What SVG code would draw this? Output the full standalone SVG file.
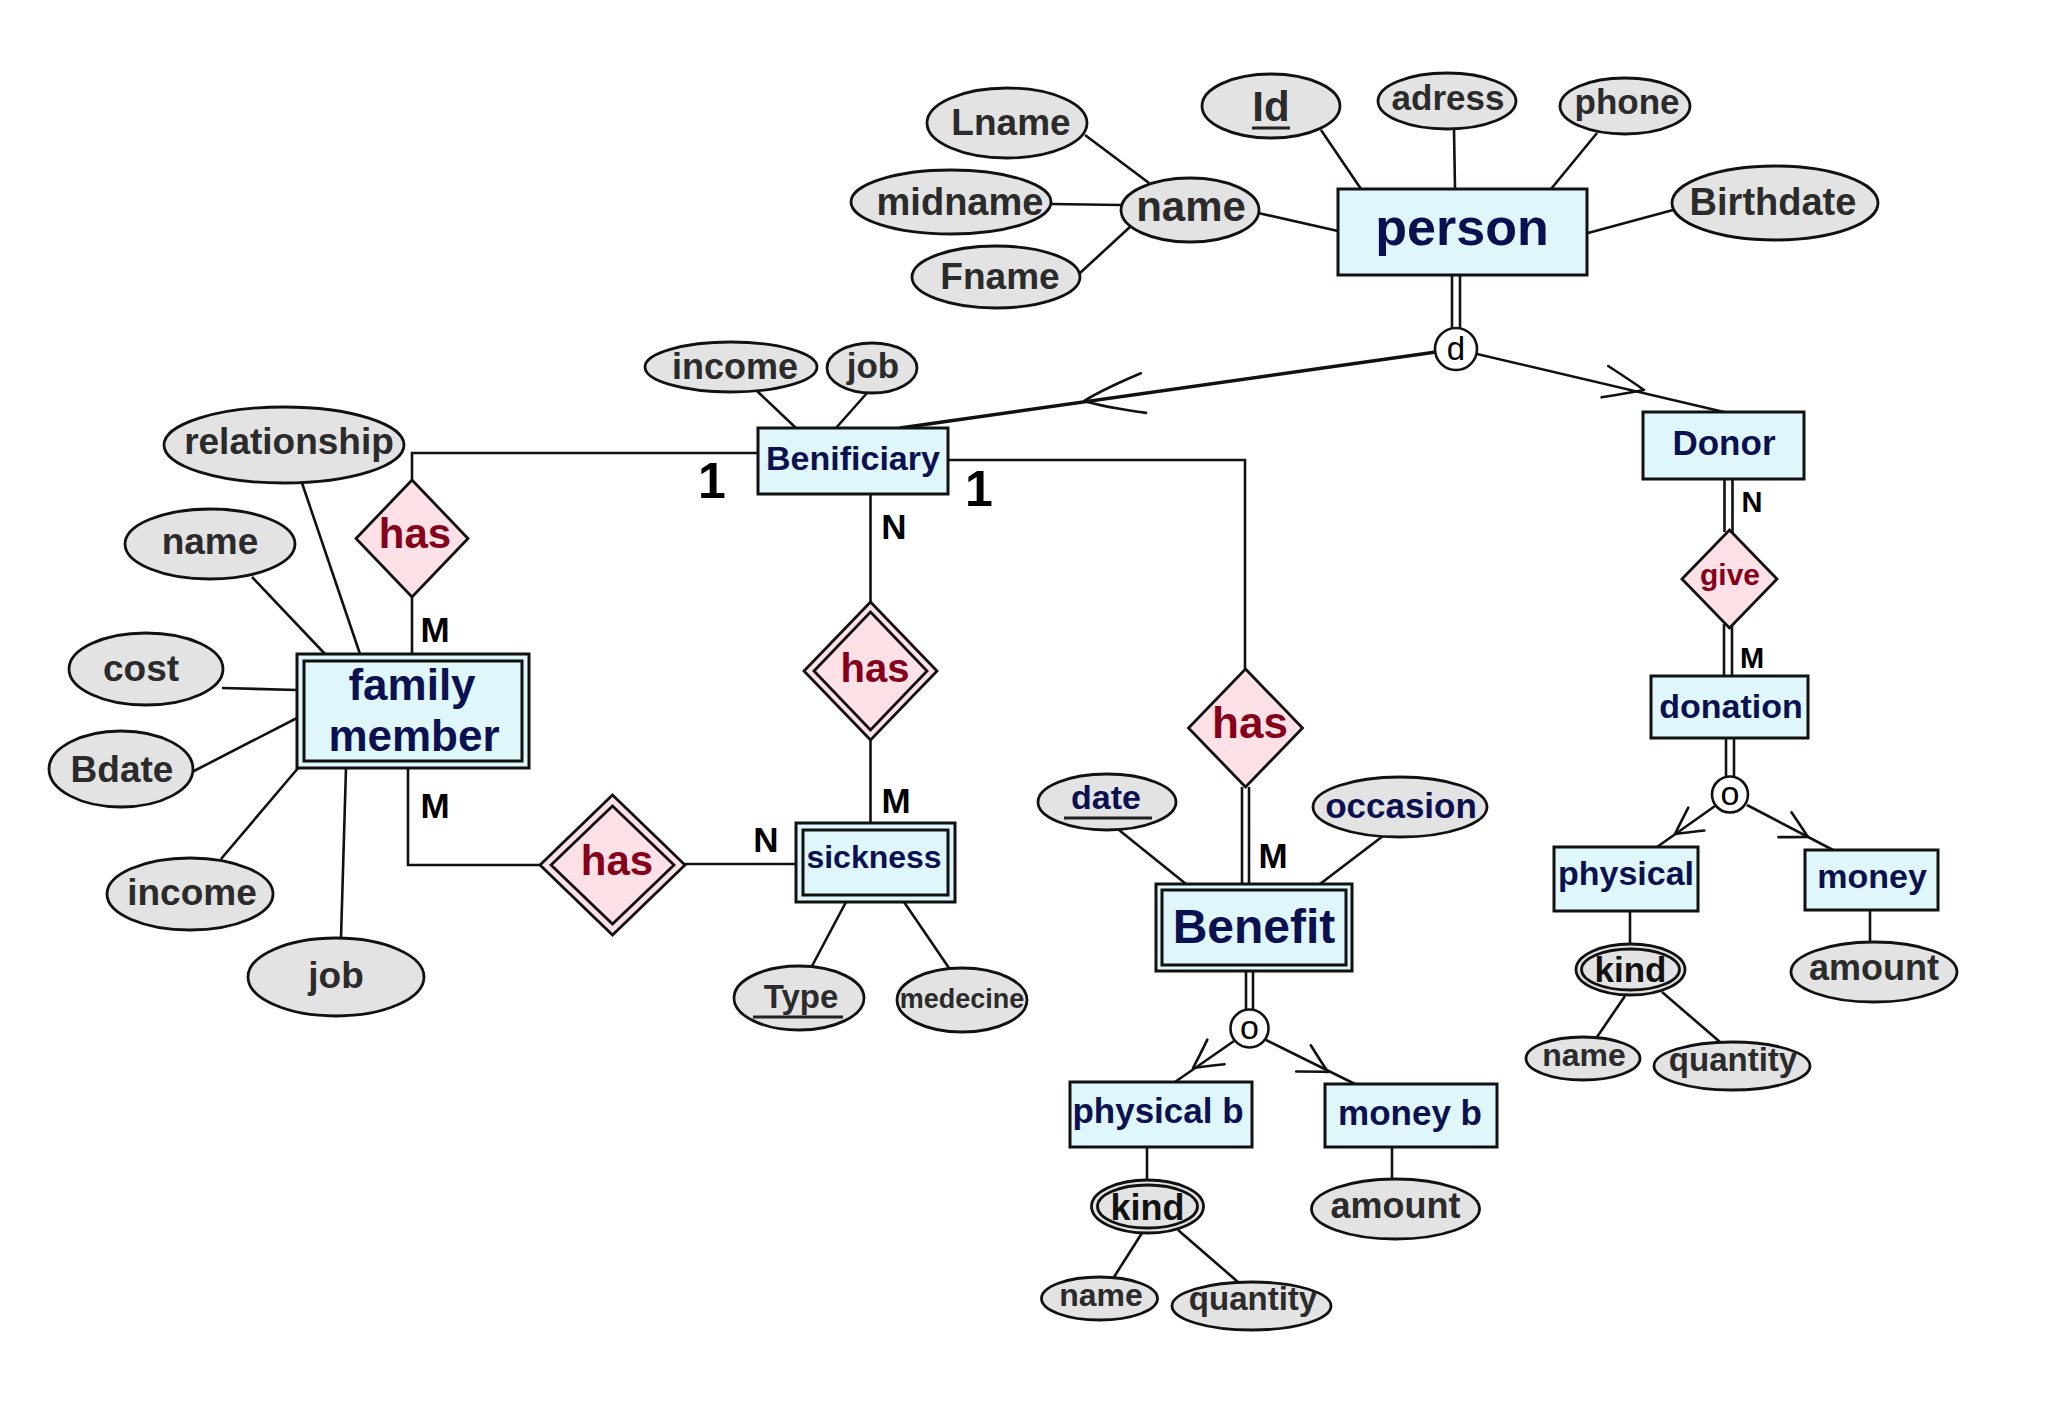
<svg xmlns="http://www.w3.org/2000/svg" width="2048" height="1410" viewBox="0 0 2048 1410">
<style>
text{font-family:"Liberation Sans",Arial,Helvetica,sans-serif;font-weight:bold;text-anchor:middle}
.ln{stroke:#111;stroke-width:2.6;fill:none}
.thick{stroke:#111;stroke-width:3.4;fill:none}
.sub{stroke:#111;stroke-width:2.6;fill:none;stroke-linecap:round;stroke-linejoin:round}
.ent{fill:#dff6fa;stroke:#111;stroke-width:3}
.att{fill:#e3e3e3;stroke:#111;stroke-width:2.8}
.rel{fill:#fde1e6;stroke:#111;stroke-width:2.8}
.circ{fill:#fff;stroke:#111;stroke-width:2.6}
.et{fill:#0b1150}
.at{fill:#2b2b2b}
.an{fill:#0b1150}
.rt{fill:#85001a}
.card{fill:#000}
.ul{stroke:#222;stroke-width:3}
.sym{font-weight:normal;fill:#000}
</style>

<g id="connectors">
  <!-- person attributes -->
  <line class="ln" x1="1085" y1="135" x2="1149" y2="183"/>
  <line class="ln" x1="1051" y1="204" x2="1121" y2="205"/>
  <line class="ln" x1="1080" y1="273" x2="1131" y2="226"/>
  <line class="ln" x1="1258" y1="213" x2="1338" y2="231"/>
  <line class="ln" x1="1321" y1="130" x2="1361" y2="189"/>
  <line class="ln" x1="1454" y1="129" x2="1455" y2="189"/>
  <line class="ln" x1="1597" y1="133" x2="1551" y2="189"/>
  <line class="ln" x1="1673" y1="210" x2="1588" y2="233"/>
  <!-- person to d (double) -->
  <line class="ln" x1="1452" y1="275" x2="1452" y2="330"/>
  <line class="ln" x1="1460" y1="275" x2="1460" y2="330"/>
  <!-- d to Benificiary / Donor -->
  <line class="thick" x1="1436" y1="352" x2="900" y2="428"/>
  <line class="ln" x1="1477" y1="354" x2="1724" y2="412"/>
  <path class="sub" transform="translate(1084,401) rotate(-7.6)" d="M60,-20 Q20,-9 0,0 Q20,9 60,20"/>
  <path class="sub" transform="translate(1644,390) rotate(-168)" d="M40,-16 Q14,-6 0,0 Q14,6 40,16"/>
  <!-- Benificiary attributes -->
  <line class="ln" x1="757" y1="391" x2="796" y2="428"/>
  <line class="ln" x1="867" y1="393" x2="836" y2="428"/>
  <!-- Benificiary - has - family member -->
  <polyline class="ln" points="758,453 412,453 412,480"/>
  <line class="ln" x1="412" y1="597" x2="412" y2="654"/>
  <!-- Benificiary - has - sickness -->
  <line class="ln" x1="870.5" y1="494" x2="870.5" y2="602"/>
  <line class="ln" x1="870.5" y1="740" x2="870.5" y2="823"/>
  <!-- Benificiary - has - Benefit -->
  <polyline class="ln" points="948,460 1245,460 1245,669"/>
  <line class="ln" x1="1242" y1="787" x2="1242" y2="884"/>
  <line class="ln" x1="1249" y1="787" x2="1249" y2="884"/>
  <!-- family member - has - sickness -->
  <polyline class="ln" points="408,768 408,865 540,865"/>
  <line class="ln" x1="685" y1="864" x2="796" y2="864"/>
  <!-- family member attributes -->
  <line class="ln" x1="302" y1="483" x2="360" y2="654"/>
  <line class="ln" x1="252" y1="577" x2="325" y2="654"/>
  <line class="ln" x1="222" y1="688" x2="297" y2="690"/>
  <line class="ln" x1="192" y1="772" x2="297" y2="718"/>
  <line class="ln" x1="221" y1="859" x2="299" y2="767"/>
  <line class="ln" x1="341" y1="938" x2="346" y2="768"/>
  <!-- sickness attributes -->
  <line class="ln" x1="812" y1="966" x2="846" y2="902"/>
  <line class="ln" x1="949" y1="968" x2="904" y2="902"/>
  <!-- Benefit attributes -->
  <line class="ln" x1="1119" y1="830" x2="1186" y2="884"/>
  <line class="ln" x1="1383" y1="836" x2="1320" y2="884"/>
  <!-- Benefit to o (double) -->
  <line class="ln" x1="1246" y1="971" x2="1246" y2="1011"/>
  <line class="ln" x1="1253" y1="971" x2="1253" y2="1011"/>
  <line class="ln" x1="1234" y1="1041" x2="1175" y2="1082"/>
  <line class="ln" x1="1266" y1="1040" x2="1355" y2="1084"/>
  <path class="sub" transform="translate(1193,1068) rotate(-35)" d="M28,-15 Q10,-5 0,0 Q10,5 28,15"/>
  <path class="sub" transform="translate(1328,1072) rotate(-151)" d="M28,-15 Q10,-5 0,0 Q10,5 28,15"/>
  <!-- physical b / money b attributes -->
  <line class="ln" x1="1147" y1="1147" x2="1147" y2="1180"/>
  <line class="ln" x1="1142" y1="1233" x2="1114" y2="1277"/>
  <line class="ln" x1="1178" y1="1230" x2="1238" y2="1282"/>
  <line class="ln" x1="1392" y1="1147" x2="1392" y2="1179"/>
  <!-- Donor - give - donation (double) -->
  <line class="ln" x1="1724.5" y1="479" x2="1724.5" y2="532"/>
  <line class="ln" x1="1732.5" y1="479" x2="1732.5" y2="536"/>
  <line class="ln" x1="1724" y1="624" x2="1724" y2="676"/>
  <line class="ln" x1="1732" y1="624" x2="1732" y2="676"/>
  <!-- donation to o (double) -->
  <line class="ln" x1="1726" y1="738" x2="1726" y2="777"/>
  <line class="ln" x1="1734" y1="738" x2="1734" y2="777"/>
  <line class="ln" x1="1715" y1="806" x2="1657" y2="847"/>
  <line class="ln" x1="1747" y1="805" x2="1833" y2="850"/>
  <path class="sub" transform="translate(1675,834) rotate(-35)" d="M26,-14 Q9,-5 0,0 Q9,5 26,14"/>
  <path class="sub" transform="translate(1808,837) rotate(-152)" d="M26,-14 Q9,-5 0,0 Q9,5 26,14"/>
  <!-- physical / money attributes -->
  <line class="ln" x1="1630" y1="911" x2="1630" y2="944"/>
  <line class="ln" x1="1625" y1="996" x2="1597" y2="1037"/>
  <line class="ln" x1="1662" y1="992" x2="1720" y2="1042"/>
  <line class="ln" x1="1870" y1="910" x2="1870" y2="942"/>
</g>

<g id="cardinalities">
  <text class="card" x="712" y="498" font-size="50">1</text>
  <text class="card" x="979" y="506" font-size="50">1</text>
  <text class="card" x="435" y="642" font-size="35">M</text>
  <text class="card" x="435" y="818" font-size="35">M</text>
  <text class="card" x="894" y="539" font-size="35">N</text>
  <text class="card" x="896" y="813" font-size="35">M</text>
  <text class="card" x="766" y="852" font-size="35">N</text>
  <text class="card" x="1273" y="868" font-size="35">M</text>
  <text class="card" x="1752" y="512" font-size="29">N</text>
  <text class="card" x="1752" y="668" font-size="29">M</text>
</g>

<!-- specialization circles -->
<g id="spec-d"><circle class="circ" cx="1456" cy="349" r="21"/><text class="sym" x="1456" y="360" font-size="33">d</text></g>
<g id="spec-o-benefit"><circle class="circ" cx="1249.5" cy="1028.5" r="19"/><text class="sym" x="1249.5" y="1039" font-size="34">o</text></g>
<g id="spec-o-donation"><circle class="circ" cx="1730" cy="794.5" r="18"/><text class="sym" x="1730" y="805" font-size="34">o</text></g>

<!-- entities -->
<g id="person"><rect class="ent" x="1338" y="189" width="249" height="86"/><text class="et" x="1462" y="245" font-size="52">person</text></g>
<g id="benificiary"><rect class="ent" x="758" y="428" width="190" height="66"/><text class="et" x="853" y="470" font-size="34">Benificiary</text></g>
<g id="donor"><rect class="ent" x="1643" y="412" width="161" height="67"/><text class="et" x="1724" y="455" font-size="35">Donor</text></g>
<g id="donation"><rect class="ent" x="1651" y="676" width="157" height="62"/><text class="et" x="1731" y="718" font-size="34">donation</text></g>
<g id="physical"><rect class="ent" x="1554" y="847" width="144" height="64"/><text class="et" x="1626" y="885" font-size="34">physical</text></g>
<g id="money"><rect class="ent" x="1805" y="850" width="133" height="60"/><text class="et" x="1872" y="888" font-size="34">money</text></g>
<g id="physical-b"><rect class="ent" x="1070" y="1082" width="182" height="65"/><text class="et" x="1158" y="1123" font-size="35">physical b</text></g>
<g id="money-b"><rect class="ent" x="1325" y="1084" width="172" height="63"/><text class="et" x="1410" y="1125" font-size="35">money b</text></g>
<g id="family-member">
  <rect class="ent" x="297" y="654" width="232" height="114"/>
  <rect class="ent" x="304" y="661" width="218" height="100"/>
  <text class="et" x="412" y="700" font-size="44">family</text>
  <text class="et" x="414" y="751" font-size="44">member</text>
</g>
<g id="sickness">
  <rect class="ent" x="796" y="823" width="159" height="79"/>
  <rect class="ent" x="803" y="830" width="145" height="65"/>
  <text class="et" x="874" y="868" font-size="32">sickness</text>
</g>
<g id="benefit">
  <rect class="ent" x="1156" y="884" width="196" height="87"/>
  <rect class="ent" x="1162" y="890" width="184" height="75"/>
  <text class="et" x="1254" y="943" font-size="48">Benefit</text>
</g>

<!-- relationships -->
<g id="has-family"><polygon class="rel" points="412,480 468,538.5 412,597 356,538.5"/><text class="rt" x="415" y="548" font-size="42">has</text></g>
<g id="has-sickness">
  <polygon class="rel" points="870.5,602 937,671 870.5,740 804,671"/>
  <polygon class="rel" points="870.5,612 927,671 870.5,730 814,671"/>
  <text class="rt" x="875" y="682" font-size="40">has</text>
</g>
<g id="has-family-sickness">
  <polygon class="rel" points="612.5,795 685,865 612.5,935 540,865"/>
  <polygon class="rel" points="612.5,806 674,865 612.5,924 551,865"/>
  <text class="rt" x="617" y="875" font-size="42">has</text>
</g>
<g id="has-benefit"><polygon class="rel" points="1245.5,669 1302.5,728 1245.5,787 1188.5,728"/><text class="rt" x="1250" y="738" font-size="44">has</text></g>
<g id="give"><polygon class="rel" points="1729.5,530 1777,579 1729.5,628 1682,579"/><text class="rt" x="1730" y="585" font-size="30">give</text></g>

<!-- attributes -->
<g id="attr-lname"><ellipse class="att" cx="1007" cy="123" rx="80" ry="35"/><text class="at" x="1011" y="135" font-size="37">Lname</text></g>
<g id="attr-midname"><ellipse class="att" cx="951" cy="202" rx="100" ry="32"/><text class="at" x="960" y="215" font-size="38">midname</text></g>
<g id="attr-name"><ellipse class="att" cx="1190" cy="210" rx="69" ry="32"/><text class="at" x="1191" y="221" font-size="42">name</text></g>
<g id="attr-fname"><ellipse class="att" cx="996" cy="277" rx="84" ry="31"/><text class="at" x="1000" y="289" font-size="37">Fname</text></g>
<g id="attr-id"><ellipse class="att" cx="1271" cy="106" rx="69" ry="32"/><text class="at" x="1271" y="121" font-size="42">Id</text><line class="ul" x1="1252" y1="128" x2="1290" y2="128"/></g>
<g id="attr-adress"><ellipse class="att" cx="1447" cy="101" rx="69" ry="28"/><text class="at" x="1448" y="110" font-size="35">adress</text></g>
<g id="attr-phone"><ellipse class="att" cx="1625" cy="106" rx="65" ry="28"/><text class="at" x="1627" y="114" font-size="35">phone</text></g>
<g id="attr-birthdate"><ellipse class="att" cx="1775" cy="203" rx="103" ry="37"/><text class="at" x="1773" y="215" font-size="38">Birthdate</text></g>

<g id="attr-b-income"><ellipse class="att" cx="731" cy="367" rx="86" ry="25"/><text class="at" x="735" y="379" font-size="36">income</text></g>
<g id="attr-b-job"><ellipse class="att" cx="872" cy="368" rx="45" ry="25"/><text class="at" x="873" y="378" font-size="35">job</text></g>

<g id="attr-relationship"><ellipse class="att" cx="284" cy="445" rx="120" ry="38"/><text class="at" x="289" y="454" font-size="37">relationship</text></g>
<g id="attr-f-name"><ellipse class="att" cx="210" cy="544" rx="85" ry="35"/><text class="at" x="210" y="554" font-size="37">name</text></g>
<g id="attr-cost"><ellipse class="att" cx="146" cy="669" rx="77" ry="36"/><text class="at" x="141" y="681" font-size="37">cost</text></g>
<g id="attr-bdate"><ellipse class="att" cx="121" cy="769" rx="72" ry="38"/><text class="at" x="122" y="782" font-size="37">Bdate</text></g>
<g id="attr-f-income"><ellipse class="att" cx="190" cy="894" rx="83" ry="36"/><text class="at" x="192" y="905" font-size="37">income</text></g>
<g id="attr-f-job"><ellipse class="att" cx="336" cy="977" rx="88" ry="39"/><text class="at" x="336" y="988" font-size="37">job</text></g>

<g id="attr-type"><ellipse class="att" cx="799" cy="998" rx="65" ry="32"/><text class="at" x="801" y="1008" font-size="33">Type</text><line class="ul" x1="753" y1="1017" x2="843" y2="1017"/></g>
<g id="attr-medecine"><ellipse class="att" cx="962" cy="1000" rx="65" ry="32"/><text class="at" x="962" y="1008" font-size="27">medecine</text></g>

<g id="attr-date"><ellipse class="att" cx="1107" cy="802" rx="69" ry="28"/><text class="an" x="1106" y="809" font-size="34">date</text><line class="ul" x1="1064" y1="818" x2="1152" y2="818"/></g>
<g id="attr-occasion"><ellipse class="att" cx="1400" cy="807" rx="87" ry="30"/><text class="an" x="1401" y="818" font-size="35">occasion</text></g>

<g id="attr-b-kind"><ellipse class="att" cx="1147.5" cy="1206.5" rx="56" ry="26.5"/><ellipse class="att" cx="1147.5" cy="1206.5" rx="50" ry="21.5"/><text fill="#111" x="1147.5" y="1220" font-size="36">kind</text></g>
<g id="attr-b-name"><ellipse class="att" cx="1099.5" cy="1298.5" rx="58" ry="21.5"/><text class="at" x="1101" y="1306" font-size="32">name</text></g>
<g id="attr-b-quantity"><ellipse class="att" cx="1251.5" cy="1306" rx="79.5" ry="24"/><text class="at" x="1253" y="1310" font-size="33">quantity</text></g>
<g id="attr-b-amount"><ellipse class="att" cx="1395.5" cy="1209" rx="84" ry="30"/><text class="at" x="1395.5" y="1218" font-size="36">amount</text></g>

<g id="attr-d-kind"><ellipse class="att" cx="1630.5" cy="969.5" rx="54.5" ry="25.5"/><ellipse class="att" cx="1630.5" cy="969.5" rx="49" ry="20.5"/><text fill="#111" x="1630.5" y="982" font-size="35">kind</text></g>
<g id="attr-d-name"><ellipse class="att" cx="1583" cy="1058.5" rx="57" ry="21.5"/><text class="at" x="1584" y="1066" font-size="32">name</text></g>
<g id="attr-d-quantity"><ellipse class="att" cx="1732" cy="1066" rx="78" ry="24"/><text class="at" x="1733" y="1071" font-size="33">quantity</text></g>
<g id="attr-d-amount"><ellipse class="att" cx="1874" cy="972" rx="83" ry="30"/><text class="at" x="1874" y="980" font-size="36">amount</text></g>
</svg>
